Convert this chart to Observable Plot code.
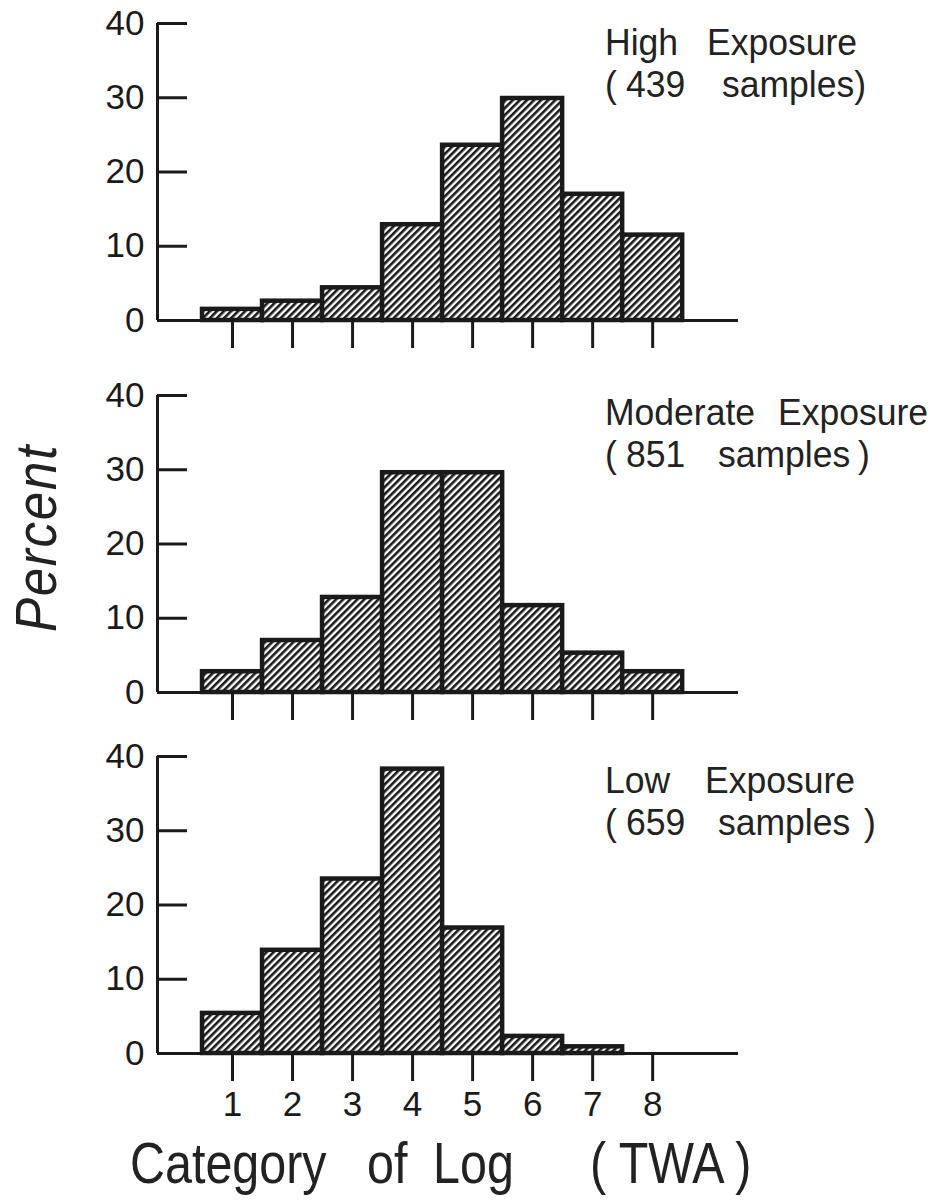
<!DOCTYPE html>
<html><head><meta charset="utf-8">
<script src="https://cdn.jsdelivr.net/npm/d3@7"></script>
<script src="https://cdn.jsdelivr.net/npm/@observablehq/plot@0.6"></script>
<style>
body{margin:0;background:#fff;}
#wrap{position:relative;width:938px;height:1201px;overflow:hidden;font-family:"Liberation Sans",Arial,sans-serif;color:#222;}
.panel{position:absolute;left:0;}
.w{position:absolute;white-space:pre;line-height:1;font-size:37px;transform:scaleX(0.96);transform-origin:0 0;}
.xl{position:absolute;white-space:pre;line-height:1;font-size:57px;transform:scaleX(0.85);transform-origin:0 0;}
.yl{position:absolute;white-space:pre;line-height:1;font-size:58px;font-style:italic;letter-spacing:2px;transform:translate(-50%,-50%) rotate(-90deg) scaleX(0.88);}
</style></head><body>
<svg width="0" height="0" style="position:absolute">
  <defs>
    <pattern id="hatch" patternUnits="userSpaceOnUse" width="5.0" height="5.0" patternTransform="rotate(45)">
      <rect width="5.0" height="5.0" fill="#ffffff"></rect>
      <rect x="0" y="0" width="2.6" height="5.0" fill="#1a1a1a"></rect>
    </pattern>
  </defs>
</svg>
<div id="wrap"></div>
<script>
// ---- data ----
const categories = [1, 2, 3, 4, 5, 6, 7, 8];
const highExposure = [1.5, 2.6, 4.4, 12.9, 23.6, 29.9, 17.0, 11.5];
const moderateExposure = [2.8, 7.0, 12.8, 29.6, 29.6, 11.7, 5.3, 2.8];
const lowExposure = [5.4, 13.9, 23.5, 38.3, 16.9, 2.3, 0.9, 0];
const panelTitleWords = [["High", "Exposure"], ["Moderate", "Exposure"], ["Low", "Exposure"]];
const panelSampleWords = [["(", "439", "samples)"], ["(", "851", "samples", ")"], ["(", "659", "samples", ")"]];
const yTicks = [0, 10, 20, 30, 40];
const yLabel = "Percent";
const xLabelWords = ["Category", "of", "Log", "( TWA )"];

// ---- layout ----
const W = 938;
const plotH = 297;
const mTop = 20;
const xDomain = [-0.25, 9.43];
const ink = "#1a1a1a";
const panelTops = [3, 375, 736];
const panelHeights = [370, 370, 400];
const titleLineTops = [[23.65, 65.65], [393.65, 435.65], [761.65, 803.65]];
const titleWordX = [[605, 707], [605, 778], [605, 705]];
const sampleWordX = [[605, 626, 722], [605, 626, 718, 858], [605, 626, 718, 864]];
const series = [highExposure, moderateExposure, lowExposure];

const wrap = document.getElementById("wrap");

function panel(values, showLabels, height) {
  const data = categories.map((c, i) => ({cat: c, value: values[i]}));
  return Plot.plot({
    width: W,
    height,
    marginLeft: 157,
    marginRight: 200,
    marginTop: mTop,
    marginBottom: height - mTop - plotH,
    x: {domain: xDomain, axis: null, label: null},
    y: {domain: [0, 40], axis: null, label: null},
    style: {background: "transparent", fontFamily: "'Liberation Sans', Arial, sans-serif", fontSize: "35px", color: ink, overflow: "visible"},
    marks: [
      Plot.rectY(data, {
        filter: d => d.value > 0,
        x1: d => d.cat - 0.5,
        x2: d => d.cat + 0.5,
        y: "value",
        fill: "url(#hatch)",
        stroke: ink,
        strokeWidth: 4.5
      }),
      Plot.ruleX([xDomain[0]], {stroke: ink, strokeWidth: 3}),
      Plot.ruleY([0], {stroke: ink, strokeWidth: 3}),
      Plot.axisY({ticks: yTicks, tickSize: -30, tickFormat: () => "", strokeWidth: 3, label: null}),
      Plot.axisY({ticks: yTicks, tickSize: 0, tickPadding: 13, fontSize: 35, label: null}),
      Plot.axisX({
        ticks: categories,
        tickSize: 28,
        strokeWidth: 3,
        tickPadding: 10,
        fontSize: 35,
        label: null,
        tickFormat: showLabels ? (d => String(d)) : (() => "")
      })
    ]
  });
}

function addWord(text, cls, left, top) {
  const s = document.createElement("div");
  s.className = cls;
  s.textContent = text;
  s.style.left = left + "px";
  s.style.top = top + "px";
  wrap.appendChild(s);
}

series.forEach((vals, i) => {
  const svg = panel(vals, i === 2, panelHeights[i]);
  svg.classList.add("panel");
  svg.style.top = panelTops[i] + "px";
  wrap.appendChild(svg);
  panelTitleWords[i].forEach((w, j) => addWord(w, "w", titleWordX[i][j], titleLineTops[i][0]));
  panelSampleWords[i].forEach((w, j) => addWord(w, "w", sampleWordX[i][j], titleLineTops[i][1]));
});

// x-axis title
const xLeft = [130, 367, 433, 590];
xLabelWords.forEach((w, i) => addWord(w, "xl", xLeft[i], 1135));

// y-axis title
const yl = document.createElement("div");
yl.className = "yl";
yl.textContent = yLabel;
yl.style.left = "36px";
yl.style.top = "538px";
wrap.appendChild(yl);
</script>
</body></html>
